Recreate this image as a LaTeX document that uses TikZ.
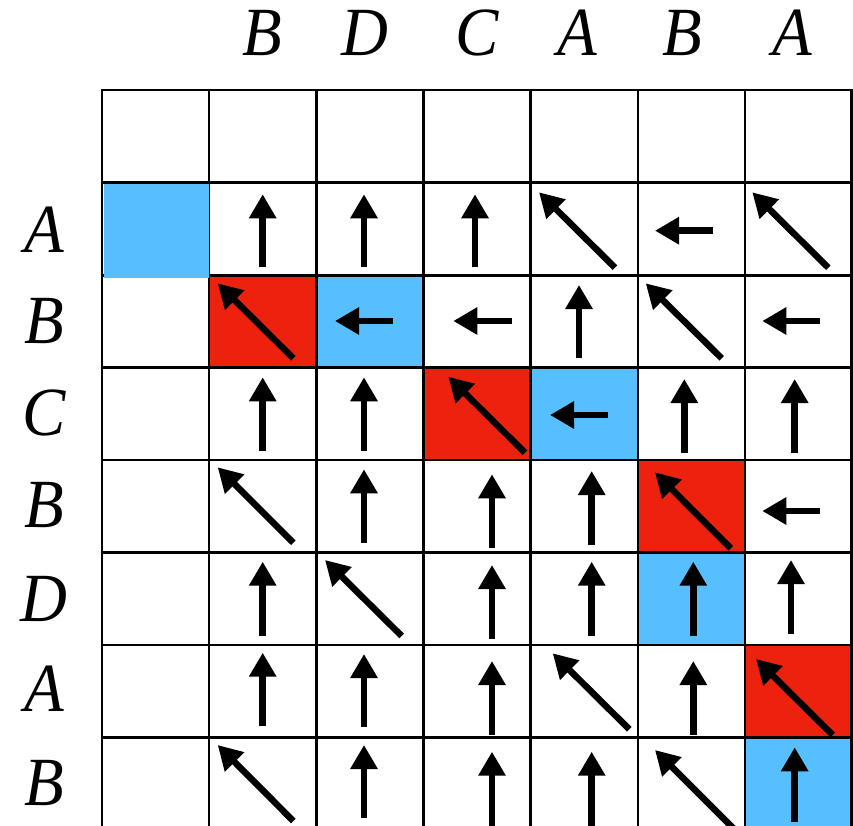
\documentclass[tikz,border=0pt]{standalone}
\usepackage{fontspec}
\setmainfont{Liberation Serif}
\newfontfamily\seqfont[FakeStretch=0.94]{Liberation Serif}
\usetikzlibrary{arrows.meta}
\definecolor{cellblue}{RGB}{87,191,254}
\definecolor{cellred}{RGB}{236,33,14}
\begin{document}
\begin{tikzpicture}[x=1pt,y=-1pt,
  gridline/.style={line width=2.3pt,black,line cap=rect},
  cellarrow/.style={line width=6.5pt,black,-{Triangle[width=26pt,length=24pt]}},
  seqlabel/.style={font=\seqfont\fontsize{69}{69}\selectfont\itshape,anchor=base,inner sep=0pt}]
\useasboundingbox (0,0) rectangle (853,826);
\clip (0,0) rectangle (853,826);
\fill[white] (0,0) rectangle (853,826);

% highlighted cells of the table
\fill[cellred]  (209,275.5)   rectangle (316.5,367.5);
\fill[cellblue] (316.5,275.5) rectangle (423.5,367.5);
\fill[cellred]  (423.5,367.5) rectangle (530.5,460);
\fill[cellblue] (530.5,367.5) rectangle (638,460);
\fill[cellred]  (638,460)     rectangle (745,552.5);
\fill[cellblue] (638,552.5)   rectangle (745,645);
\fill[cellred]  (745,645)     rectangle (851.5,737.5);
\fill[cellblue] (745,737.5)   rectangle (851.5,830);

% grid
\foreach \x in {102,209,316.5,423.5,530.5,638,745,851.5}
  \draw[gridline] (\x,90) -- (\x,832);
\foreach \y in {90,182.5,275.5,367.5,460,552.5,645,737.5}
  \draw[gridline] (102,\y) -- (851.5,\y);

% first cell of row A is filled over its lower and right rules
\fill[cellblue] (103.5,184) rectangle (209.3,277.5);

% column labels
\node[seqlabel] (h1) at (262.5,56) {B};
\node[seqlabel] (h2) at (364.5,56) {D};
\node[seqlabel] (h3) at (477.5,56) {C};
\node[seqlabel] (h4) at (577.5,56) {A};
\node[seqlabel] (h5) at (682.5,56) {B};
\node[seqlabel] (h6) at (792.5,56) {A};

% row labels
\node[seqlabel] (v1) at (44,252.5) {A};
\node[seqlabel] (v2) at (44,343) {B};
\node[seqlabel] (v3) at (44,435.5) {C};
\node[seqlabel] (v4) at (44,527.5) {B};
\node[seqlabel] (v5) at (44,621) {D};
\node[seqlabel] (v6) at (44,711) {A};
\node[seqlabel] (v7) at (44,805) {B};

% traceback arrows, tail to tip
\foreach \ax/\ay/\bx/\by in {
  262.7/267.3/262.7/194.3, 364/267.3/364/194.3, 475/267.3/475/194.3,
  615/267.7/539/192.3, 713.3/230.7/655/230.7, 828.3/267.7/752.3/192.3,
  293.3/358.3/217.7/283.3, 393.3/321/335/321, 511.7/321/453.3/321,
  579/358.3/579/285, 721.7/358.3/645.7/283.3, 820/321/762.3/321,
  262.7/450.7/262.7/377.3, 364/450.7/364/377.3, 525/452.7/448.3/376.7,
  608.3/415/550/415, 684.3/452.7/684.3/379, 794.7/452.7/794.7/379,
  293.3/542.7/217.7/467.3, 364/542.7/364/469.3, 492/548.3/492/474.3,
  591.7/545/591.7/471, 730.7/548.3/655/472.3, 820/511/762.3/511,
  262.7/636/262.7/561.7, 401.7/636/325/560, 492/639.3/492/565,
  591.7/636/591.7/561.7, 693.3/636/693.3/561.7, 791/634/791/560,
  262.7/726/262.7/652.7, 364/727.3/364/654, 492/735/492/661,
  629.3/729.3/552.7/653.3, 693.3/735/693.3/661, 832.7/735/756/659,
  293.3/821/217.7/745, 364/818.3/364/745, 492/832/492/751.7,
  591.7/832/591.7/751.7, 737/832/655/750, 794.7/821.7/794.7/747.3}
  \draw[cellarrow] (\ax,\ay) -- (\bx,\by);
\end{tikzpicture}
\end{document}
